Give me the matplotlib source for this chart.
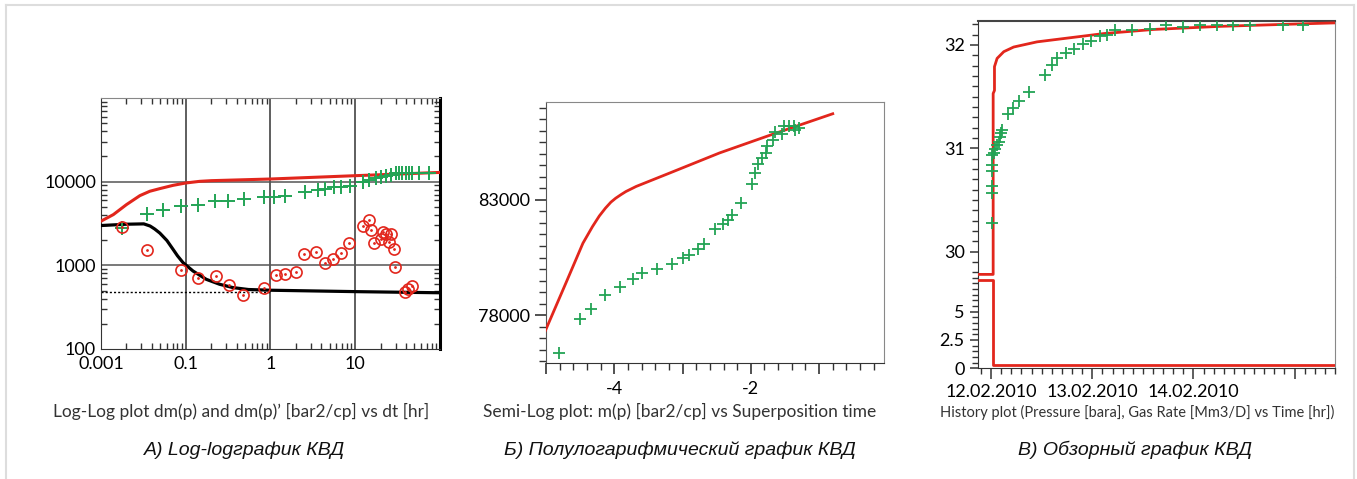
import matplotlib
matplotlib.use('Agg')
import matplotlib.pyplot as plt
from matplotlib.ticker import FixedLocator, MultipleLocator, NullFormatter, LogLocator
from matplotlib.lines import Line2D

plt.rcParams['font.family'] = ['Lato', 'DejaVu Sans']

RED = '#e2261c'
GREEN = '#23a455'

# --- A) log-log derivative plot
a_tick_pos = [0.01, 0.1, 1, 10]
a_tick_lbl = ['0.001', '0.1', '1', '10']
a_model_t = [0.01, 0.014, 0.02, 0.0288, 0.0377, 0.0495, 0.071, 0.1, 0.146, 0.2, 1, 10, 100]
a_model_dp = [3370, 4040, 5320, 6810, 7680, 8260, 9040, 9640, 10090, 10280, 10760, 11790, 12900]
a_deriv_t = [0.01, 0.02, 0.032, 0.038, 0.043, 0.0495, 0.06, 0.071, 0.08, 0.093, 0.122, 0.175,
             0.251, 0.36, 0.55, 1, 10, 100]
a_deriv_v = [2990, 3100, 3130, 2950, 2720, 2430, 1980, 1550, 1300, 1077, 855, 680,
             594, 542, 514, 504, 485, 470]
a_stab_t = [0.01, 1]
a_stab_v = [486, 486]
a_dp_t = [0.0175, 0.0345, 0.054, 0.089, 0.14, 0.22, 0.315, 0.494, 0.85, 1.11, 1.49,
          2.56, 3.6, 4.4, 5.66, 6.78, 8.65, 12.2, 14.6, 17.5, 20, 23, 26.3,
          30.1, 33, 36, 39.5, 43.2, 47.3, 56.6, 74.3]
a_dp_v = [2810, 4120, 4640, 5180, 5320, 5840, 5940, 6220, 6630, 6630, 6810,
          7470, 8040, 8190, 8650, 8650, 8960, 9810, 10360, 11070, 11380, 11790, 12110,
          12690, 12690, 12690, 12690, 12690, 12690, 12690, 12690]
a_der_t = [0.0175, 0.0345, 0.089, 0.14, 0.225, 0.32, 0.48, 0.83, 1.17, 1.5, 2.0, 2.51,
           3.44, 4.4, 5.5, 6.78, 8.5, 12.2, 14.6, 15.3, 16.7, 20, 21, 23, 25.1, 26.3,
           28.8, 29.5, 38.7, 42.4, 47.2]
a_der_v = [2840, 1510, 879, 700, 746, 583, 443, 542, 760, 781, 841, 1365,
           1455, 1057, 1202, 1416, 1828, 2940, 3435, 2630, 1862, 2040, 2495, 2340, 1916, 2385,
           1550, 964, 481, 527, 567]

# --- Б) semi-log plot
b_model_x = [-5.01, -4.71, -4.46, -4.32, -4.22, -4.13, -4.05, -3.98, -3.90, -3.83, -3.68,
             -3.19, -2.46, -1.73, -0.80]
b_model_y = [77330, 79390, 81120, 81840, 82300, 82640, 82900, 83070, 83230, 83360, 83580,
             84160, 85030, 85790, 86730]
b_pts_x = [-4.81, -4.51, -4.34, -4.13, -3.92, -3.72, -3.59, -3.37, -3.16, -3.0, -2.90,
           -2.78, -2.68, -2.53, -2.41, -2.34, -2.27, -2.14, -1.98, -1.94, -1.90, -1.84,
           -1.78, -1.76, -1.67, -1.64, -1.54, -1.51, -1.44, -1.37, -1.35, -1.29]
b_pts_y = [76350, 77850, 78260, 78890, 79210, 79570, 79820, 80010, 80220, 80470, 80620,
           80880, 81090, 81730, 81950, 82130, 82350, 82860, 83680, 84160, 84560, 84810,
           85030, 85340, 85600, 85940, 85870, 86180, 86210, 86210, 86010, 86110]

# --- В) history plot (days since 12.02.2010)
c_date_pos = [0, 1, 2, 3]
c_date_lbl = ['12.02.2010', '13.02.2010', '14.02.2010', '']
c_p_model_t = [-0.2, 0.02, 0.02, 0.033, 0.033, 0.059, 0.125, 0.223, 0.454, 0.783, 1.112,
               1.605, 2.264, 2.922, 3.45]
c_p_model_v = [29.78, 29.78, 31.53, 31.56, 31.79, 31.87, 31.935, 31.98, 32.03, 32.07,
               32.11, 32.15, 32.18, 32.20, 32.215]
c_rate_t = [-0.2, 0.02, 0.02, 3.45]
c_rate_v = [7.8, 7.8, 0.3, 0.3]
c_p_t = [0.007, 0.007, 0.007, 0.005, 0.01, 0.007, 0.026, 0.042, 0.059, 0.075, 0.092,
         0.100, 0.108, 0.164, 0.217, 0.273, 0.371, 0.536, 0.602, 0.651, 0.743, 0.822,
         0.908, 0.987, 1.079, 1.145, 1.227, 1.392, 1.573, 1.728, 1.901, 2.066, 2.231,
         2.395, 2.56, 2.888, 3.086]
c_p_v = [30.28, 30.57, 30.64, 30.78, 30.84, 30.94, 30.95, 30.99, 31.03, 31.06, 31.11,
         31.15, 31.18, 31.33, 31.39, 31.46, 31.54, 31.71, 31.81, 31.87, 31.92, 31.96,
         32.01, 32.04, 32.09, 32.10, 32.14, 32.14, 32.15, 32.19, 32.17, 32.19, 32.19,
         32.19, 32.19, 32.19, 32.19]

fig = plt.figure(figsize=(13.57, 4.79), dpi=100)

# thin grey frame around the whole figure
for xs, ys in [([0.0044, 0.0044], [0.0, 0.989]), ([0.0044, 0.998], [0.989, 0.989]),
               ([0.998, 0.998], [0.989, 0.0])]:
    fig.add_artist(Line2D(xs, ys, color='#dddddd', lw=1.5, transform=fig.transFigure))

# ---------------- A
ax = fig.add_axes([0.0744, 0.2714, 0.2498, 0.524])
ax.set_xscale('log'); ax.set_yscale('log')
ax.set_xlim(0.01, 100); ax.set_ylim(100, 100000)
ax.plot(a_model_t, a_model_dp, color=RED, lw=2.2, zorder=3)
ax.plot(a_deriv_t, a_deriv_v, color='black', lw=2.3, zorder=3)
ax.plot(a_stab_t, a_stab_v, color='black', lw=1, ls=(0, (1.5, 1.5)), zorder=2)
ax.plot(a_dp_t, a_dp_v, ls='none', marker='+', ms=10, mew=1.4, color=GREEN, zorder=4)
ax.plot(a_der_t, a_der_v, ls='none', marker='o', ms=8, mfc='none', mec=RED, mew=1.2, zorder=4)
ax.plot(a_der_t, a_der_v, ls='none', marker='.', ms=2, color=RED, zorder=4)
for v in [0.1, 1, 10]:
    ax.axvline(v, color='#333333', lw=1.1, zorder=1)
for v in [1000, 10000]:
    ax.axhline(v, color='#555555', lw=1.1, zorder=1)
ax.xaxis.set_major_locator(FixedLocator(a_tick_pos))
ax.set_xticklabels(a_tick_lbl)
ax.xaxis.set_minor_locator(LogLocator(base=10, subs=range(2, 10), numticks=20))
ax.xaxis.set_minor_formatter(NullFormatter())
ax.yaxis.set_major_locator(FixedLocator([100, 1000, 10000]))
ax.set_yticklabels(['100', '1000', '10000'])
ax.yaxis.set_minor_locator(LogLocator(base=10, subs=range(2, 10), numticks=20))
ax.yaxis.set_minor_formatter(NullFormatter())
ax.tick_params(which='both', direction='in', top=True, right=True, labelsize=13, width=1, color='#333333')
ax.tick_params(which='major', length=0)
ax.tick_params(which='minor', length=4)
ax.tick_params(axis='x', pad=5)
ax.spines['right'].set_linewidth(2.2)
for s in ['left', 'bottom', 'top']:
    ax.spines[s].set_color('#333333')
ax.spines['top'].set_color('#888888')
fig.text(241 / 1357, 1 - 411 / 479, 'Log-Log plot dm(p) and dm(p)’ [bar2/cp] vs dt [hr]',
         ha='center', va='center', fontsize=12.5, color='#333333')

# ---------------- Б
bx = fig.add_axes([0.4024, 0.2422, 0.249, 0.5449])
bx.set_xlim(-5.0, -0.05); bx.set_ylim(75930, 87240)
bx.plot(b_model_x, b_model_y, color=RED, lw=2, zorder=3)
bx.plot(b_pts_x, b_pts_y, ls='none', marker='+', ms=8, mew=1.3, color=GREEN, zorder=4)
bx.xaxis.set_major_locator(FixedLocator([-5, -4, -3, -2, -1]))
bx.set_xticklabels(['', '-4', '', '-2', ''])
bx.xaxis.set_minor_locator(MultipleLocator(0.2))
bx.yaxis.set_major_locator(FixedLocator([78000, 83000]))
bx.yaxis.set_minor_locator(MultipleLocator(500))
bx.tick_params(which='both', direction='out', labelsize=13, color='#333333')
bx.tick_params(which='major', length=8, width=1.2)
bx.tick_params(which='minor', length=5, width=1)
bx.tick_params(axis='x', pad=5)
for s in ['top', 'right']:
    bx.spines[s].set_color('#888888')
bx.spines['left'].set_color('#555555')
bx.spines['bottom'].set_color('#333333')
fig.text(680 / 1357, 1 - 411 / 479, 'Semi-Log plot: m(p) [bar2/cp] vs Superposition time',
         ha='center', va='center', fontsize=12.5, color='#333333')

# ---------------- В (broken y axis: pressure on top, gas rate below)
cu = fig.add_axes([0.7207, 0.4207, 0.2631, 0.5355])
cl = fig.add_axes([0.7207, 0.2311, 0.2631, 0.1896], sharex=cu)
cu.set_xlim(-0.13, 3.4)
cu.set_ylim(29.75, 32.232)
cl.set_ylim(0, 8.02)
cu.plot(c_p_model_t, c_p_model_v, color=RED, lw=2, zorder=3)
cu.plot(c_p_t, c_p_v, ls='none', marker='+', ms=9, mew=1.3, color=GREEN, zorder=4)
cl.plot(c_rate_t, c_rate_v, color=RED, lw=2, zorder=3)
cu.yaxis.set_major_locator(FixedLocator([30, 31, 32]))
cu.yaxis.set_minor_locator(MultipleLocator(0.1))
cl.yaxis.set_major_locator(FixedLocator([0, 2.5, 5]))
cl.set_yticklabels(['0', '2.5', '5'])
cl.yaxis.set_minor_locator(MultipleLocator(0.5))
cl.xaxis.set_major_locator(FixedLocator(c_date_pos))
cl.xaxis.set_minor_locator(MultipleLocator(0.1))
cl.set_xticklabels(c_date_lbl)
cu.tick_params(axis='x', which='both', bottom=False, labelbottom=False)
for a in (cu, cl):
    a.tick_params(which='both', direction='out', labelsize=13, color='#333333')
    a.tick_params(which='major', length=6, width=1.1)
    a.tick_params(which='minor', length=4, width=1)
    a.spines['right'].set_color('#888888')
    a.spines['left'].set_color('#333333')
cl.tick_params(axis='x', which='major', length=8)
cu.spines['bottom'].set_visible(False)
cl.spines['top'].set_visible(False)
cu.spines['top'].set_color('#444444')
cu.spines['top'].set_linewidth(1.5)
cl.spines['bottom'].set_color('#333333')
fig.text(940 / 1357, 1 - 412 / 479, 'History plot (Pressure [bara], Gas Rate [Mm3/D] vs Time [hr])',
         ha='left', va='center', fontsize=10.5, color='#333333')

# captions
cap_font = ['Liberation Sans Narrow', 'Liberation Sans', 'DejaVu Sans']
for x, s in [(245, 'А) Log-logграфик КВД'), (680, 'Б) Полулогарифмический график КВД'),
             (1135, 'В) Обзорный график КВД')]:
    fig.text(x / 1357, 1 - 450 / 479, s, ha='center', va='center', fontsize=14,
             style='italic', family=cap_font, color='#111111')

fig.savefig('out.png', dpi=100)
